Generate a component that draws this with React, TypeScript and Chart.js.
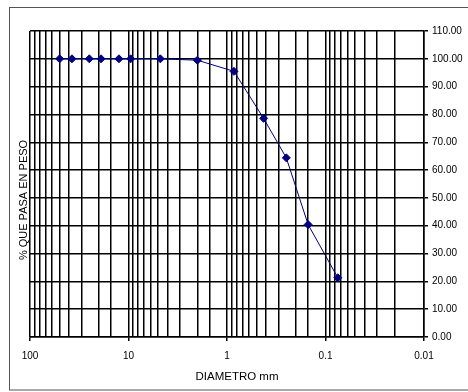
import React, { useEffect, useRef } from "react";
import { Chart, registerables } from "chart.js";

Chart.register(...registerables);

const sizesMm = [50, 37.5, 25, 19, 12.5, 9.5, 4.75, 2.0, 0.85, 0.425, 0.25, 0.15, 0.075];
const percentPassing = [100, 100, 100, 100, 100, 100, 100, 99.5, 95.5, 78.6, 64.4, 40.4, 21.3];
const xMin = 0.01;
const xMax = 100;
const yMin = 0;
const yMax = 110;
const yStep = 10;
const xTitle = "DIAMETRO mm";
const yTitle = "% QUE PASA EN PESO";

const isMajor = (v: number) => {
  const l = Math.log10(v);
  return Math.abs(l - Math.round(l)) < 1e-6;
};

const fmtMajor = (v: number) => {
  const e = Math.round(Math.log10(v));
  return e >= 0 ? String(Math.pow(10, e)) : (Math.pow(10, e)).toFixed(-e);
};

const decorPlugin = {
  id: "decor",
  beforeDraw(chart: any) {
    const { ctx } = chart;
    ctx.save();
    ctx.strokeStyle = "#555";
    ctx.lineWidth = 1;
    ctx.strokeRect(9.5, 7.5, 470, 382.5);
    ctx.restore();
  },
  afterDraw(chart: any) {
    const { ctx, chartArea } = chart;
    ctx.save();
    ctx.fillStyle = "#000";
    ctx.textAlign = "center";
    ctx.textBaseline = "middle";
    ctx.font = "11.5px 'Liberation Sans', Arial, sans-serif";
    ctx.fillText(xTitle, (chartArea.left + chartArea.right) / 2 + 10, chartArea.bottom + 40);
    ctx.translate(chartArea.left - 6, (chartArea.top + chartArea.bottom) / 2 + 16);
    ctx.rotate(-Math.PI / 2);
    ctx.font = "11px 'Liberation Sans', Arial, sans-serif";
    ctx.fillText(yTitle, 0, 0);
    ctx.restore();
  },
};

export default function App() {
  const ref = useRef<HTMLCanvasElement | null>(null);
  useEffect(() => {
    document.body.style.margin = "0";
    const canvas = ref.current;
    if (!canvas) return;
    const chart = new Chart(canvas, {
      type: "line",
      data: {
        datasets: [
          {
            data: sizesMm.map((x, i) => ({ x, y: percentPassing[i] })),
            borderColor: "#000080",
            backgroundColor: "#000080",
            borderWidth: 1,
            pointStyle: "rectRot",
            pointRadius: 4,
            pointHoverRadius: 4,
            tension: 0,
            fill: false,
          },
        ],
      },
      options: {
        animation: false,
        responsive: false,
        events: [],
        layout: { padding: { left: 30, top: 31, right: 0, bottom: 0 } },
        plugins: { legend: { display: false }, tooltip: { enabled: false }, title: { display: false } },
        scales: {
          x: {
            type: "logarithmic",
            min: xMin,
            max: xMax,
            reverse: true,
            afterFit: (s: any) => {
              s.height = 55;
            },
            grid: {
              color: "#000",
              lineWidth: 1.5,
              tickLength: 4,
              tickColor: (c: any) => (c.tick && isMajor(c.tick.value) ? "#000" : "rgba(0,0,0,0)"),
            },
            border: { color: "#000", width: 1.5 },
            ticks: {
              autoSkip: false,
              maxRotation: 0,
              minRotation: 0,
              padding: 9,
              color: "#000",
              font: { family: "'Liberation Sans', Arial, sans-serif", size: 10 },
              callback: (v: any) => (isMajor(Number(v)) ? fmtMajor(Number(v)) : ""),
            },
          },
          y: {
            position: "right",
            min: yMin,
            max: yMax,
            afterFit: (s: any) => {
              s.width = 44;
            },
            grid: { color: "#000", lineWidth: 1.5, tickLength: 4, tickColor: "#000" },
            border: { color: "#000", width: 1.5 },
            ticks: {
              stepSize: yStep,
              padding: 4,
              color: "#000",
              font: { family: "'Liberation Sans', Arial, sans-serif", size: 10 },
              callback: (v: any) => Number(v).toFixed(2),
            },
          },
        },
      },
      plugins: [decorPlugin],
    } as any);
    return () => chart.destroy();
  }, []);
  return (
    <div style={{ width: 468, height: 392 }}>
      <canvas ref={ref} width={468} height={392} style={{ width: 468, height: 392, display: "block" }} />
    </div>
  );
}
